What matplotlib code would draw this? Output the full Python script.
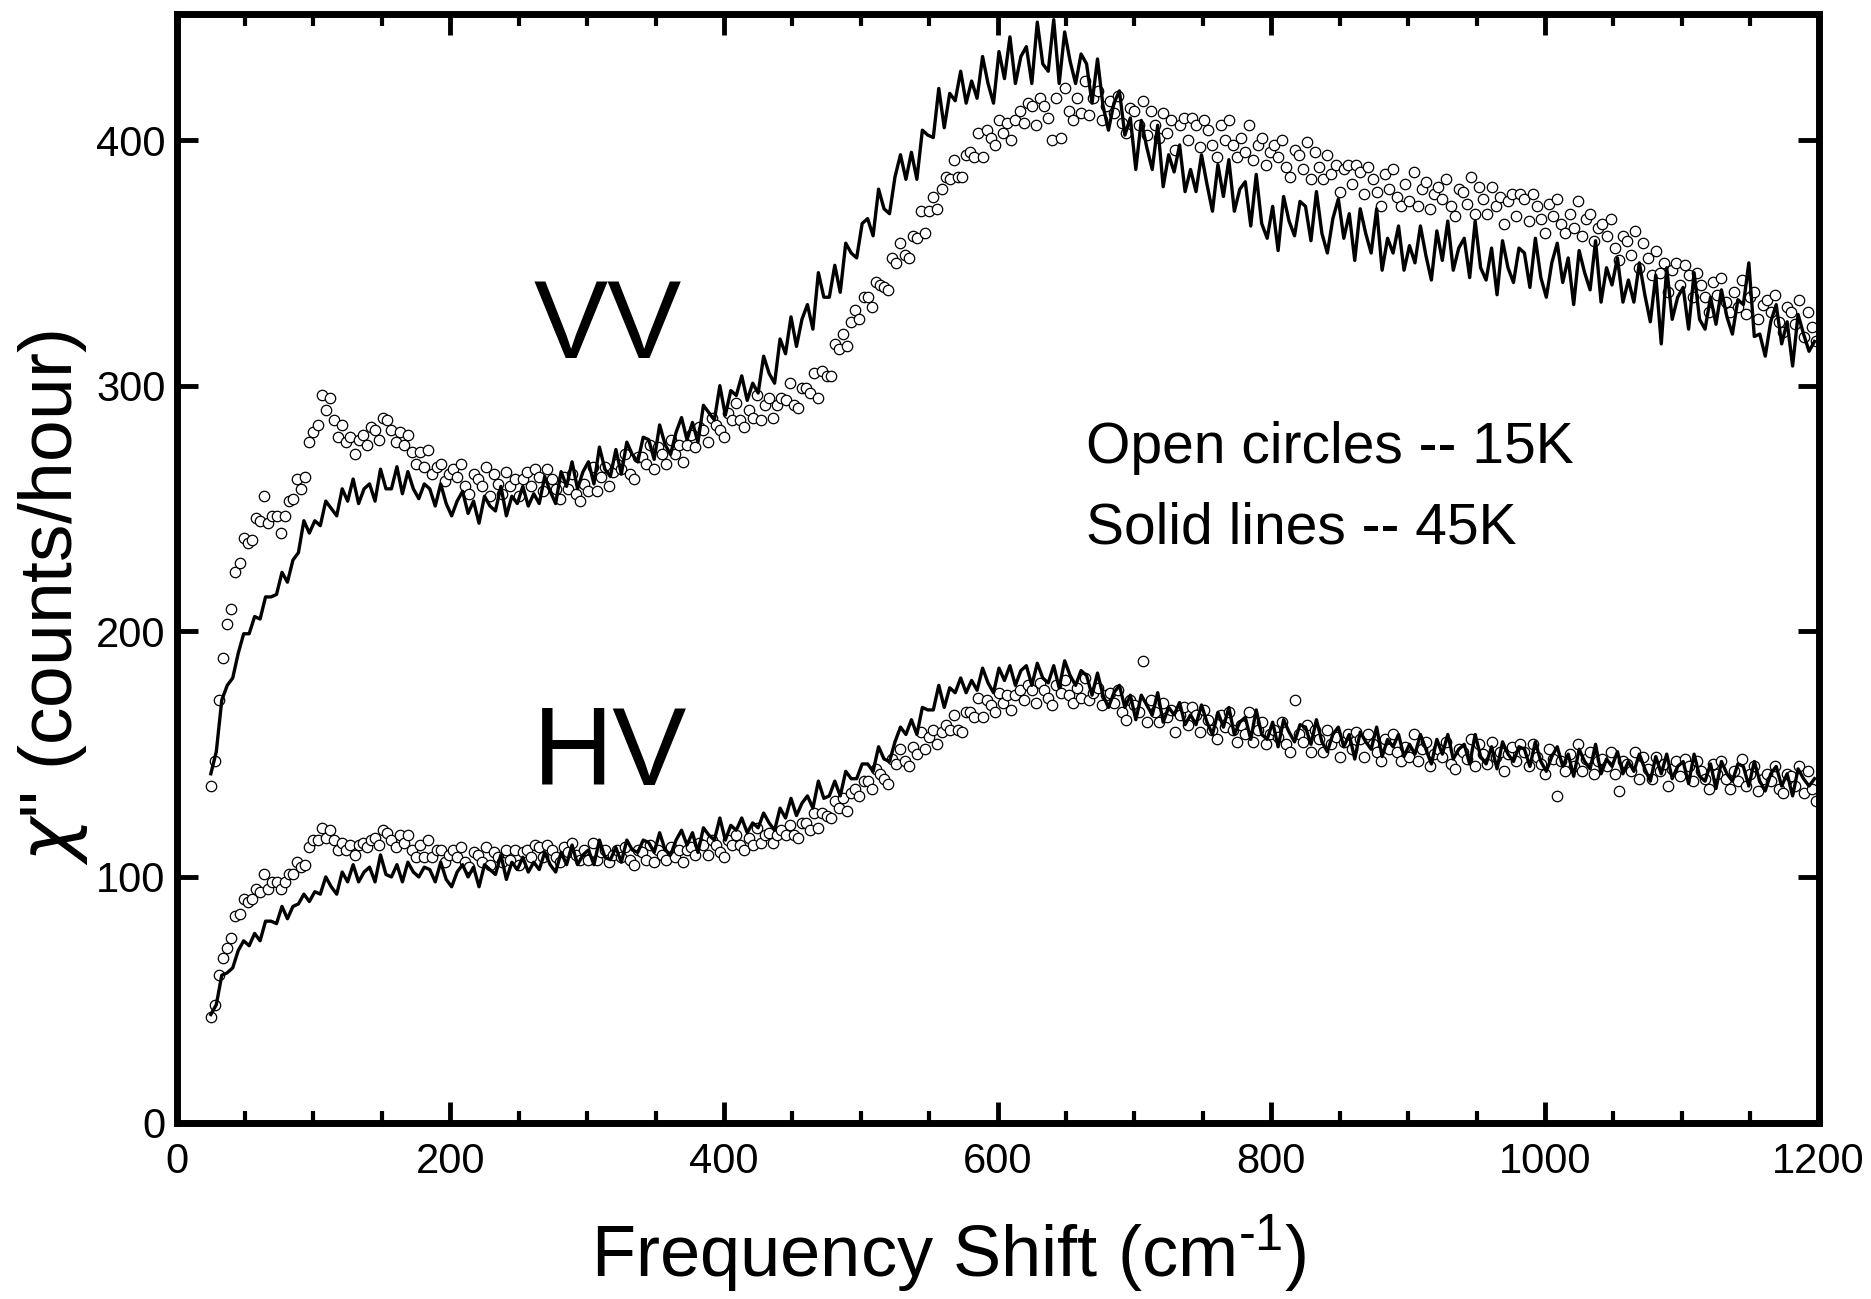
import numpy as np
import matplotlib
matplotlib.use("Agg")
from matplotlib import pyplot
from matplotlib.ticker import MultipleLocator

# frequency shift grids (cm^-1): 15 K points every 3, 45 K points every 4
shift_15k = np.arange(25, 1200, 3)
shift_45k = np.arange(25, 1200, 4)

# VV polarisation, 15 K (open circles)
vv_15k = [
    137, 147, 172, 189, 203, 209, 224, 228, 238, 236, 237, 246, 245, 255, 244, 247, 247, 240, 247, 253,
    254, 262, 258, 263, 277, 281, 284, 296, 290, 295, 286, 279, 284, 277, 279, 272, 278, 280, 276, 283,
    282, 278, 287, 286, 282, 277, 281, 276, 280, 273, 268, 273, 267, 274, 264, 267, 268, 261, 264, 266,
    263, 268, 259, 256, 264, 262, 259, 267, 255, 264, 260, 256, 265, 259, 262, 255, 262, 265, 259, 266,
    263, 257, 266, 262, 258, 254, 263, 258, 264, 256, 253, 260, 257, 267, 257, 263, 267, 259, 265, 268,
    266, 272, 264, 262, 271, 271, 268, 276, 266, 275, 272, 268, 278, 272, 276, 269, 276, 280, 275, 283,
    282, 277, 287, 284, 282, 279, 289, 286, 293, 286, 283, 290, 287, 296, 286, 292, 295, 287, 292, 295,
    294, 301, 292, 291, 299, 299, 297, 305, 295, 306, 304, 304, 317, 315, 321, 316, 326, 331, 327, 336,
    336, 332, 342, 341, 340, 339, 352, 350, 358, 353, 352, 361, 360, 371, 362, 371, 377, 372, 380, 385,
    384, 392, 385, 385, 394, 395, 393, 403, 393, 404, 401, 398, 408, 403, 407, 400, 408, 412, 407, 415,
    414, 406, 417, 414, 409, 400, 417, 401, 421, 412, 408, 417, 411, 424, 410, 417, 420, 408, 414, 416,
    411, 418, 407, 403, 413, 412, 406, 416, 402, 412, 406, 401, 411, 403, 408, 396, 406, 409, 400, 409,
    406, 397, 408, 404, 398, 393, 406, 400, 408, 398, 393, 401, 395, 406, 392, 398, 401, 390, 395, 398,
    393, 400, 389, 385, 396, 394, 388, 399, 384, 395, 389, 384, 394, 386, 390, 379, 388, 390, 382, 390,
    387, 378, 389, 384, 379, 373, 386, 380, 388, 377, 373, 382, 375, 387, 373, 380, 383, 372, 378, 381,
    376, 384, 373, 369, 380, 379, 374, 385, 370, 381, 376, 370, 381, 373, 377, 366, 375, 378, 369, 378,
    376, 367, 378, 373, 368, 362, 374, 369, 376, 366, 362, 370, 364, 375, 361, 368, 370, 359, 364, 366,
    361, 368, 356, 351, 361, 359, 353, 363, 348, 358, 352, 345, 355, 346, 350, 338, 347, 350, 341, 349,
    345, 336, 346, 341, 336, 330, 342, 337, 344, 334, 330, 338, 332, 343, 329, 336, 338, 327, 333, 335,
    330, 337, 326, 322, 332, 330, 325, 335, 320, 330, 324, 318,
]

# VV polarisation, 45 K (solid line)
vv_45k = [
    142, 151, 172, 178, 181, 191, 199, 199, 206, 205, 214, 214, 215, 224, 220, 229, 232, 245, 240, 245,
    243, 253, 250, 247, 258, 253, 262, 252, 258, 260, 253, 266, 258, 258, 267, 256, 265, 258, 254, 260,
    258, 251, 260, 252, 247, 253, 257, 248, 253, 244, 255, 251, 249, 259, 247, 255, 252, 259, 251, 256,
    252, 263, 257, 252, 265, 259, 269, 258, 265, 269, 260, 275, 266, 263, 274, 264, 277, 272, 269, 279,
    278, 270, 284, 276, 272, 281, 287, 278, 285, 277, 292, 289, 286, 300, 288, 298, 296, 304, 294, 301,
    297, 312, 305, 301, 319, 313, 328, 316, 327, 333, 323, 346, 336, 336, 349, 338, 358, 354, 352, 366,
    368, 361, 380, 372, 370, 385, 394, 384, 395, 384, 404, 402, 401, 421, 405, 419, 416, 428, 415, 424,
    417, 434, 423, 415, 436, 425, 442, 423, 434, 438, 423, 448, 431, 428, 449, 423, 444, 432, 423, 435,
    431, 415, 433, 414, 404, 415, 420, 402, 409, 388, 408, 397, 388, 406, 381, 394, 387, 398, 379, 388,
    379, 394, 382, 371, 390, 377, 392, 371, 380, 383, 365, 386, 366, 360, 373, 355, 377, 367, 361, 375,
    373, 359, 379, 362, 354, 368, 376, 360, 370, 351, 372, 362, 354, 372, 347, 360, 354, 365, 347, 357,
    350, 365, 353, 343, 363, 351, 367, 347, 356, 360, 344, 367, 348, 343, 356, 337, 359, 348, 342, 356,
    354, 340, 360, 344, 336, 350, 358, 342, 352, 333, 355, 346, 339, 359, 334, 348, 341, 352, 334, 343,
    334, 350, 337, 326, 345, 317, 348, 327, 336, 340, 323, 346, 327, 323, 336, 325, 339, 328, 321, 335,
    333, 350, 320, 321, 312, 326, 333, 317, 326, 308, 329, 321, 314, 318,
]

# HV polarisation, 15 K (open circles)
hv_15k = [
    43, 48, 60, 67, 71, 75, 84, 85, 91, 90, 91, 95, 94, 101, 95, 98, 98, 95, 98, 101,
    101, 106, 104, 105, 112, 115, 115, 120, 116, 119, 115, 111, 114, 111, 113, 109, 113, 114, 112, 115,
    116, 113, 119, 118, 115, 112, 117, 114, 117, 111, 108, 113, 108, 115, 108, 111, 111, 106, 109, 111,
    108, 112, 106, 104, 110, 109, 106, 112, 105, 110, 108, 106, 111, 107, 111, 105, 110, 111, 108, 113,
    112, 108, 113, 111, 108, 106, 112, 110, 114, 109, 107, 111, 107, 114, 107, 110, 111, 106, 109, 111,
    108, 112, 107, 105, 111, 110, 107, 113, 106, 111, 109, 107, 112, 108, 111, 106, 111, 112, 109, 114,
    113, 109, 115, 113, 110, 108, 115, 113, 117, 113, 111, 116, 113, 120, 114, 117, 118, 114, 117, 119,
    117, 121, 117, 116, 122, 122, 119, 126, 120, 126, 125, 124, 131, 128, 132, 127, 134, 136, 133, 139,
    139, 136, 144, 142, 140, 138, 148, 146, 152, 147, 145, 153, 150, 159, 152, 157, 160, 154, 159, 162,
    160, 166, 160, 159, 167, 167, 165, 173, 165, 172, 170, 167, 175, 171, 174, 168, 174, 176, 172, 178,
    176, 171, 179, 176, 173, 170, 178, 175, 180, 174, 171, 177, 173, 181, 172, 175, 177, 170, 174, 175,
    171, 176, 167, 164, 172, 170, 167, 188, 163, 172, 167, 163, 171, 165, 168, 159, 166, 169, 162, 169,
    166, 159, 168, 164, 160, 156, 166, 161, 167, 160, 155, 162, 158, 167, 155, 160, 163, 154, 158, 160,
    157, 163, 154, 151, 172, 158, 155, 162, 151, 160, 156, 151, 160, 154, 157, 149, 155, 158, 152, 159,
    156, 149, 158, 154, 151, 147, 156, 152, 158, 151, 147, 153, 149, 158, 147, 152, 155, 145, 150, 152,
    149, 155, 146, 144, 152, 151, 148, 156, 145, 154, 150, 146, 155, 149, 151, 143, 150, 153, 147, 154,
    151, 145, 154, 149, 146, 142, 152, 148, 133, 147, 143, 150, 145, 154, 143, 148, 151, 142, 147, 148,
    145, 151, 142, 135, 147, 146, 143, 151, 140, 149, 144, 140, 149, 143, 146, 137, 144, 147, 141, 148,
    145, 139, 147, 143, 140, 136, 146, 142, 147, 140, 136, 143, 139, 148, 137, 142, 145, 135, 140, 142,
    139, 145, 136, 134, 142, 141, 137, 145, 134, 143, 136, 131,
]

# HV polarisation, 45 K (solid line)
hv_45k = [
    44, 48, 60, 61, 63, 70, 74, 72, 77, 74, 82, 82, 81, 88, 83, 88, 89, 93, 90, 94,
    93, 100, 96, 93, 102, 98, 105, 98, 102, 104, 98, 109, 101, 100, 105, 98, 106, 102, 100, 104,
    103, 98, 106, 99, 96, 102, 105, 100, 104, 96, 105, 103, 101, 109, 99, 106, 103, 108, 102, 106,
    103, 110, 105, 102, 110, 105, 113, 105, 109, 111, 105, 115, 108, 107, 112, 106, 115, 111, 110, 115,
    114, 110, 118, 111, 109, 115, 119, 113, 118, 110, 120, 117, 115, 124, 115, 121, 119, 124, 118, 122,
    120, 126, 122, 119, 128, 124, 132, 125, 130, 133, 128, 139, 132, 133, 139, 133, 143, 140, 140, 146,
    146, 143, 153, 148, 147, 155, 161, 158, 164, 158, 169, 168, 168, 178, 169, 177, 175, 181, 175, 180,
    176, 185, 179, 175, 185, 180, 186, 178, 184, 186, 178, 187, 181, 179, 186, 177, 188, 182, 178, 184,
    182, 174, 183, 174, 169, 175, 178, 169, 174, 164, 174, 170, 166, 175, 163, 169, 166, 171, 162, 166,
    162, 170, 163, 158, 167, 161, 169, 158, 163, 165, 156, 168, 158, 156, 163, 153, 164, 159, 155, 162,
    161, 154, 164, 155, 151, 158, 161, 153, 158, 148, 159, 155, 152, 161, 149, 156, 153, 158, 149, 154,
    150, 158, 152, 146, 156, 150, 158, 148, 152, 154, 146, 158, 149, 146, 153, 144, 155, 150, 147, 153,
    152, 145, 155, 147, 143, 149, 153, 145, 150, 141, 152, 147, 144, 154, 142, 148, 145, 151, 142, 147,
    143, 150, 144, 139, 149, 142, 150, 140, 145, 147, 138, 150, 141, 139, 146, 136, 147, 142, 139, 146,
    145, 137, 147, 139, 135, 142, 145, 137, 142, 133, 144, 140, 137, 140,
]

pyplot.rcParams['font.family'] = ['Liberation Sans', 'DejaVu Sans']
pyplot.rcParams['mathtext.fontset'] = 'dejavusans'
pyplot.rcParams['mathtext.default'] = 'regular'

fig = pyplot.figure(figsize=(18.71, 12.99), dpi=100)
ax = fig.add_axes([0.0944, 0.1358, 0.8776, 0.8538])

for circles, line in [(vv_15k, vv_45k), (hv_15k, hv_45k)]:
    ax.plot(shift_15k, circles, linestyle='none', marker='o', markersize=7.5,
            markerfacecolor='white', markeredgecolor='black', markeredgewidth=0.9)
    ax.plot(shift_45k, line, color='black', linewidth=2.4)

ax.set_xlim(0, 1200)
ax.set_ylim(0, 451.5)
ax.xaxis.set_major_locator(MultipleLocator(200))
ax.xaxis.set_minor_locator(MultipleLocator(50))
ax.yaxis.set_major_locator(MultipleLocator(100))

for spine in ax.spines.values():
    spine.set_linewidth(5)

ax.tick_params(which='both', direction='in', top=True, right=True)
ax.tick_params(which='major', length=15, width=3.5, labelsize=30)
ax.tick_params(which='minor', length=8.5, width=3)
ax.tick_params(axis='x', pad=14)
ax.tick_params(axis='y', pad=8)

ax.set_xlabel('Frequency Shift (cm$^{\u20101}$)', fontsize=52, va='baseline')
ax.xaxis.set_label_coords(0.47, -0.1388)
ax.set_ylabel(r'$\mathit{\chi}$" (counts/hour)', fontsize=54, va='baseline')
ax.yaxis.set_label_coords(-0.064, 0.473)

ax.text(260.7, 311.2, 'VV', fontsize=80, va='baseline')
ax.text(260.7, 137.4, 'HV', fontsize=80, va='baseline')
ax.text(664.5, 268.4, 'Open circles -- 15K', fontsize=41, va='baseline')
ax.text(664.5, 235.9, 'Solid lines -- 45K', fontsize=41, va='baseline')

fig.savefig('out.png', dpi=100)
